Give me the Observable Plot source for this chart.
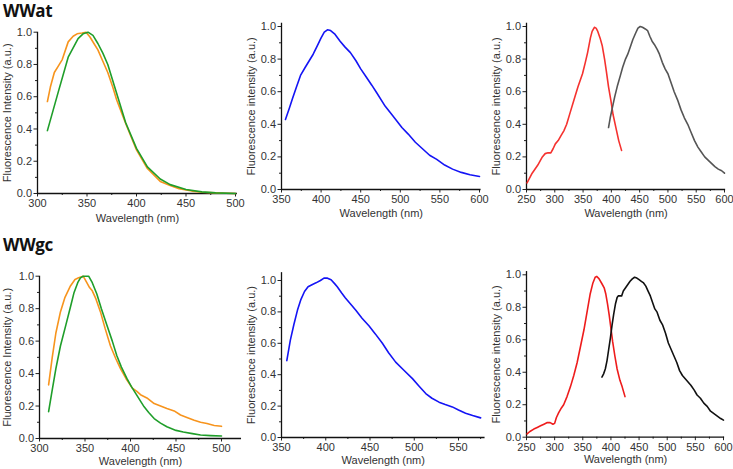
<!DOCTYPE html>
<html><head><meta charset="utf-8">
<script src="https://cdn.jsdelivr.net/npm/d3@7"></script>
<script src="https://cdn.jsdelivr.net/npm/@observablehq/plot@0.6"></script>
<style>
body{margin:0;background:#fff;}
#root{position:relative;width:733px;height:469px;overflow:hidden;background:#fff;font-family:"Liberation Sans",Arial,sans-serif;}
.panel{position:absolute;}
svg.panel, svg.panel text{font-family:"Liberation Sans",Arial,sans-serif !important;}
.title{position:absolute;font-weight:bold;font-size:17px;line-height:18px;color:#111;font-family:"Open Sans","Liberation Sans",sans-serif;letter-spacing:-0.3px;}
</style></head><body><div id="root"></div>
<script>
// ---------- DATA ----------
// WWat, left panel
const wwatOrangeWl = [310,313,317,321,325,331,336,340,345,349,353,357,361,366,371,376,380,385,390,400,411,424,434,443,456,466,480,490,500];
const wwatOrangeI  = [0.57,0.66,0.75,0.79,0.83,0.94,0.975,0.99,0.995,1.0,0.97,0.93,0.89,0.82,0.75,0.66,0.58,0.50,0.42,0.27,0.155,0.075,0.05,0.03,0.015,0.008,0.004,0.002,0.0];
const wwatGreenWl  = [310,321,331,341,346,351,356,361,366,371,380,389,400,411,424,434,450,466,480,500];
const wwatGreenI   = [0.39,0.63,0.845,0.96,0.99,1.0,0.98,0.93,0.87,0.80,0.62,0.44,0.28,0.165,0.09,0.055,0.025,0.01,0.004,0.0];
// WWat, middle panel
const wwatBlueWl = [355,360,364,369,374,380,385,390,395,400,404,408,412,417,424,430,437,444,450,457,464,470,481,490,502,510,519,528,537,546,556,566,577,588,600];
const wwatBlueI  = [0.43,0.50,0.56,0.63,0.70,0.75,0.79,0.83,0.88,0.93,0.965,0.98,0.975,0.955,0.91,0.875,0.84,0.79,0.74,0.69,0.64,0.595,0.51,0.455,0.38,0.34,0.29,0.25,0.21,0.185,0.15,0.125,0.105,0.09,0.08];
// WWat, right panel
const wwatRedWl = [251,260,270,278,283,288,293,297,301,306,311,316,321,327,334,341,349,354,358,363,366,370,373,376,380,384,388,391,395,399,403,408,413,418];
const wwatRedI  = [0.04,0.10,0.15,0.20,0.22,0.225,0.225,0.25,0.28,0.30,0.33,0.36,0.40,0.47,0.55,0.63,0.71,0.78,0.84,0.93,0.97,0.995,0.99,0.97,0.93,0.88,0.80,0.73,0.63,0.55,0.46,0.38,0.30,0.24];
const wwatGrayWl = [395,398,402,406,411,416,420,425,429,433,438,443,447,451,455,460,464,468,472,476,481,485,490,495,500,506,511,517,523,529,535,541,547,553,559,565,571,577,583,589,595,600];
const wwatGrayI  = [0.38,0.44,0.505,0.57,0.64,0.70,0.75,0.80,0.83,0.87,0.92,0.96,0.99,1.0,0.995,0.985,0.975,0.94,0.91,0.89,0.86,0.83,0.78,0.74,0.71,0.65,0.60,0.55,0.49,0.44,0.40,0.35,0.30,0.26,0.23,0.20,0.18,0.16,0.14,0.125,0.115,0.10];
// WWgc, left panel
const wwgcOrangeWl = [310,314,318,323,328,334,339,343,348,352,355,358,362,367,372,378,384,389,395,402,407,411,418,426,433,440,448,455,462,470,477,484,492,500];
const wwgcOrangeI  = [0.33,0.50,0.65,0.78,0.87,0.94,0.98,0.99,1.0,0.96,0.93,0.91,0.86,0.78,0.68,0.57,0.49,0.43,0.37,0.31,0.29,0.27,0.25,0.215,0.20,0.185,0.17,0.145,0.13,0.113,0.10,0.092,0.08,0.075];
const wwgcGreenWl  = [310,314,318,323,329,334,338,342,345,348,351,354,358,363,368,374,380,385,390,396,401,406,411,415,420,426,433,440,450,458,468,477,488,500];
const wwgcGreenI   = [0.165,0.30,0.43,0.57,0.70,0.81,0.90,0.96,0.99,1.0,1.0,1.0,0.96,0.89,0.80,0.70,0.60,0.51,0.44,0.37,0.32,0.275,0.23,0.195,0.16,0.123,0.095,0.072,0.05,0.04,0.03,0.022,0.018,0.015];
// WWgc, middle panel
const wwgcBlueWl = [356,360,364,368,372,376,380,385,389,394,398,402,406,410,413,418,422,428,434,441,449,456,464,471,479,488,498,505,513,520,528,535,543,550,558,566,575];
const wwgcBlueI  = [0.49,0.62,0.72,0.81,0.88,0.93,0.96,0.975,0.985,1.0,1.015,1.015,1.005,0.98,0.96,0.92,0.89,0.85,0.81,0.76,0.71,0.66,0.60,0.54,0.48,0.43,0.375,0.33,0.28,0.25,0.225,0.21,0.195,0.175,0.155,0.14,0.125];
// WWgc, right panel
const wwgcRedWl = [251,256,263,269,275,281,287,292,297,300,303,307,312,316,322,328,334,340,346,352,358,363,368,372,375,379,384,388,391,394,397,400,403,407,411,416,420,425];
const wwgcRedI  = [0.02,0.035,0.05,0.06,0.07,0.08,0.09,0.09,0.08,0.085,0.12,0.15,0.18,0.20,0.25,0.31,0.38,0.46,0.56,0.66,0.78,0.88,0.95,0.985,0.99,0.975,0.945,0.92,0.88,0.82,0.75,0.67,0.59,0.50,0.42,0.35,0.31,0.25];
const wwgcBlackWl = [384,387,390,393,396,399,402,405,408,411,413,416,419,422,426,430,434,438,442,446,450,454,458,462,466,470,474,478,482,487,492,497,502,507,512,517,522,527,532,537,542,548,553,559,565,571,577,583,589,595,600];
const wwgcBlackI  = [0.37,0.39,0.42,0.47,0.54,0.61,0.69,0.76,0.82,0.86,0.87,0.87,0.87,0.90,0.92,0.94,0.96,0.975,0.985,0.98,0.97,0.96,0.95,0.93,0.90,0.87,0.83,0.79,0.77,0.72,0.69,0.64,0.58,0.54,0.50,0.46,0.41,0.38,0.36,0.34,0.32,0.29,0.26,0.24,0.21,0.19,0.16,0.145,0.13,0.115,0.105];

// tick values
const ticksX300 = [300,350,400,450,500], minorX300 = [325,375,425,475];
const ticksX350a = [350,400,450,500,550,600], minorX350a = [375,425,475,525,575];
const ticksX350b = [350,400,450,500,550], minorX350b = [375,425,475,525,575];
const ticksX250 = [250,300,350,400,450,500,550,600], minorX250 = [275,325,375,425,475,525,575];
const ticksY = [0,0.2,0.4,0.6,0.8,1.0], minorY = [0.1,0.3,0.5,0.7,0.9];
const titles = ["WWat","WWgc"];
const xLabel = "Wavelength (nm)";
const yLabelCap = "Fluorescence Intensity (a.u.)";
const yLabelLow = "Fluorescence intensity (a.u.)";

// ---------- DRAW ----------
const root = document.getElementById("root");
const toRows = (xs, ys) => xs.map((x, i) => ({x, y: ys[i]}));
const FONT = "font-family:'Liberation Sans',Arial,sans-serif;font-size:11px;background:transparent;color:#333;";

function panel(o) {
  const kx = (o.xb[1] - o.xa[1]) / (o.xb[0] - o.xa[0]);
  const fl = o.xa[1] + (o.xd[0] - o.xa[0]) * kx;
  const fr = o.xa[1] + (o.xd[1] - o.xa[0]) * kx;
  const ky = (o.y0 - o.y1);
  const ft = o.y0 - o.yd[1] * ky;
  const fb = o.y0;
  const marks = [
    Plot.axisX({ticks: o.minX, tickSize: 2, tickFormat: () => "", label: null, stroke: "#222"}),
    Plot.axisY({ticks: minorY, tickSize: 2, tickFormat: () => "", label: null, stroke: "#222"}),
    Plot.axisX({ticks: o.tx, tickSize: 3.5, tickPadding: 2, stroke: "#222", fill: "#333",
      label: xLabel, labelAnchor: "center", labelArrow: "none", labelOffset: o.xlo}),
    Plot.axisY({ticks: ticksY, tickSize: 3.5, tickPadding: 2, tickFormat: d3.format(".1f"), stroke: "#222", fill: "#333",
      label: o.yl, labelAnchor: "center", labelArrow: "none", labelOffset: fl - o.sl - o.ylx}),
    Plot.ruleX([o.xd[0]], {stroke: "#111", strokeWidth: 1.3}),
    Plot.ruleY([0], {stroke: "#111", strokeWidth: 1.3})
  ];
  for (const s of o.series) marks.push(Plot.line(toRows(s.x, s.y), {x: "x", y: "y", stroke: s.c, strokeWidth: 1.6}));
  const p = Plot.plot({
    width: o.sw, height: o.sh,
    marginLeft: fl - o.sl, marginRight: o.sl + o.sw - fr,
    marginTop: ft - o.st, marginBottom: o.st + o.sh - fb,
    x: {domain: o.xd}, y: {domain: o.yd},
    style: FONT,
    marks
  });
  p.classList.add("panel");
  p.style.position = "absolute";
  p.style.left = o.sl + "px"; p.style.top = o.st + "px";
  root.appendChild(p);
}

const orange = "#f7941d", green = "#1f9e2a", blue = "#1414f5";

panel({sl: 0, st: 20, sw: 245, sh: 206, xa: [300, 37], xb: [500, 235], xd: [300, 502], y0: 193, y1: 31.7, yd: [0, 1.0],
  tx: ticksX300, minX: minorX300, xlo: 28, yl: yLabelCap, ylx: 3,
  series: [{x: wwatOrangeWl, y: wwatOrangeI, c: orange}, {x: wwatGreenWl, y: wwatGreenI, c: green}]});
panel({sl: 245, st: 20, sw: 245, sh: 206, xa: [350, 281], xb: [600, 479], xd: [350, 602], y0: 189, y1: 26, yd: [0, 1.02],
  tx: ticksX350a, minX: minorX350a, xlo: 27, yl: yLabelLow, ylx: 2,
  series: [{x: wwatBlueWl, y: wwatBlueI, c: blue}]});
panel({sl: 490, st: 20, sw: 243, sh: 206, xa: [250, 526], xb: [600, 724], xd: [250, 602], y0: 189, y1: 26, yd: [0, 1.02],
  tx: ticksX250, minX: minorX250, xlo: 27, yl: yLabelLow, ylx: 2,
  series: [{x: wwatRedWl, y: wwatRedI, c: "#f5322f"}, {x: wwatGrayWl, y: wwatGrayI, c: "#555555"}]});
panel({sl: 0, st: 250, sw: 245, sh: 219, xa: [300, 39], xb: [500, 221], xd: [300, 522], y0: 438, y1: 275.7, yd: [0, 1.0],
  tx: ticksX300, minX: minorX300, xlo: 26, yl: yLabelCap, ylx: 3,
  series: [{x: wwgcOrangeWl, y: wwgcOrangeI, c: orange}, {x: wwgcGreenWl, y: wwgcGreenI, c: green}]});
panel({sl: 245, st: 250, sw: 245, sh: 219, xa: [350, 281], xb: [550, 458], xd: [350, 580], y0: 437, y1: 280, yd: [0, 1.05],
  tx: ticksX350b, minX: minorX350b, xlo: 26, yl: yLabelLow, ylx: 2,
  series: [{x: wwgcBlueWl, y: wwgcBlueI, c: blue}]});
panel({sl: 490, st: 250, sw: 243, sh: 219, xa: [250, 526], xb: [600, 723], xd: [250, 602], y0: 436.7, y1: 274.3, yd: [0, 1.02],
  tx: ticksX250, minX: minorX250, xlo: 26, yl: yLabelLow, ylx: 2,
  series: [{x: wwgcRedWl, y: wwgcRedI, c: "#ee1c1c"}, {x: wwgcBlackWl, y: wwgcBlackI, c: "#111111"}]});

titles.forEach((t, i) => {
  const d = document.createElement("div");
  d.className = "title"; d.textContent = t;
  d.style.left = "3px"; d.style.top = (i === 0 ? 2 : 236) + "px";
  root.appendChild(d);
});
</script>
</body></html>
